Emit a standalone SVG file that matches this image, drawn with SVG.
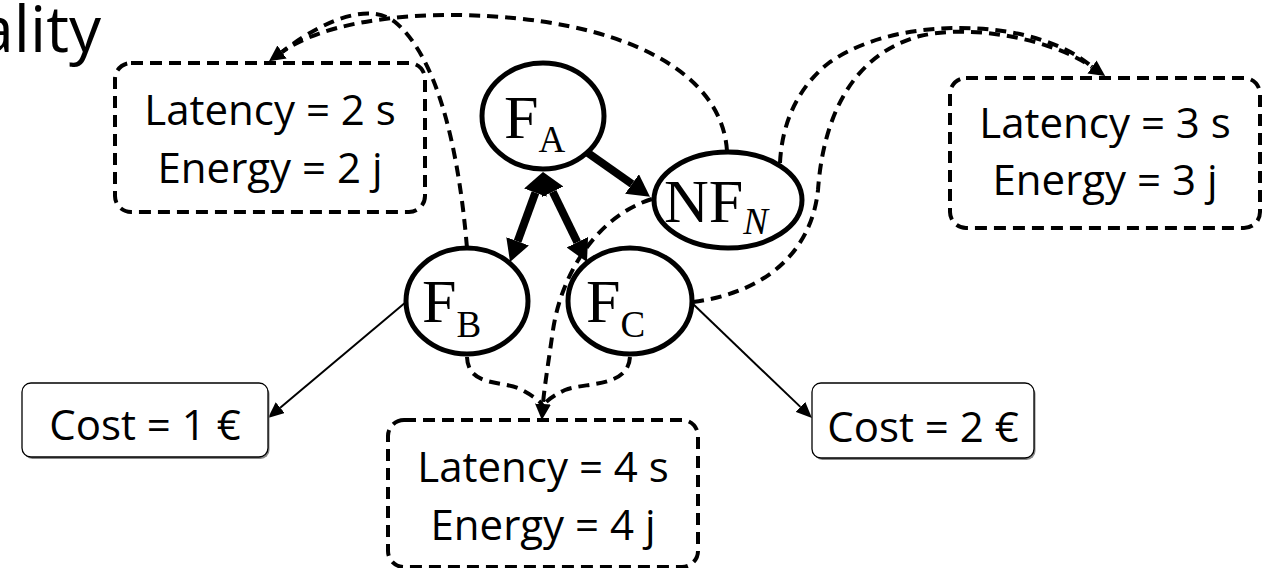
<svg xmlns="http://www.w3.org/2000/svg" width="1268" height="568" viewBox="0 0 1268 568">
<style>
.box{fill:#fff;stroke:#000;stroke-width:4;stroke-dasharray:12 7}
.cost{fill:#fff;stroke:#000;stroke-width:1.3}
.shadow{fill:#888}
.t{font-family:"Open Sans","Liberation Sans",sans-serif;font-size:42px;fill:#000;text-anchor:middle}
.node{fill:#fff;stroke:#000;stroke-width:5}
.lbl{font-family:"Liberation Serif","DejaVu Serif",serif;font-size:62px;fill:#000}
.sub{font-size:37px}
.thick{stroke:#000;stroke-width:8;fill:none}
.thin{stroke:#000;stroke-width:2;fill:none}
.dash{stroke:#000;stroke-width:4;fill:none;stroke-dasharray:11 7}
</style>
<defs>
<marker id="mThick" viewBox="0 0 22 24" refX="0" refY="12" markerWidth="22" markerHeight="24" markerUnits="userSpaceOnUse" orient="auto-start-reverse"><path d="M0,0 L22,12 L0,24 z" fill="#000"/></marker>
<marker id="mThin" viewBox="0 0 16 14" refX="0" refY="7" markerWidth="16" markerHeight="14" markerUnits="userSpaceOnUse" orient="auto"><path d="M0,0 L16,7 L0,14 z" fill="#000"/></marker>
<marker id="mDash" viewBox="0 0 16 16" refX="0" refY="8" markerWidth="16" markerHeight="16" markerUnits="userSpaceOnUse" orient="auto"><path d="M0,0 L16,8 L0,16 z" fill="#000"/></marker>
</defs>
<rect width="1268" height="568" fill="#fff"/>
<text x="101" y="52" font-family="Open Sans, Liberation Sans, sans-serif" font-size="64" text-anchor="end" fill="#000">ality</text>

<g id="connectors">
<line class="thick" x1="588" y1="153" x2="632" y2="184" marker-end="url(#mThick)"/>
<line class="thick" x1="535.4" y1="192.7" x2="517.6" y2="241.3" marker-start="url(#mThick)" marker-end="url(#mThick)"/>
<line class="thick" x1="552.7" y1="191.8" x2="577.3" y2="242.2" marker-start="url(#mThick)" marker-end="url(#mThick)"/>
<line class="thin" x1="406" y1="302" x2="280.2" y2="407.7" marker-end="url(#mThin)"/>
<line class="thin" x1="692" y1="303" x2="800.4" y2="406.9" marker-end="url(#mThin)"/>
<path class="dash" d="M467,248 C458,140 435,55 395,22 C372,4 330,15 282,52"/>
<path class="dash" d="M727,151 C722,70 620,18 460,15 C390,14 320,25 282,52" marker-end="url(#mDash)"/>
<path class="dash" d="M780,163 C782,120 800,85 830,62 C870,35 920,28 960,28 C1020,28 1068,45 1092,67"/>
<path class="dash" d="M693,302 C770,292 812,248 818,190 C823,120 850,55 920,36 C970,24 1050,38 1092,67" marker-end="url(#mDash)"/>
<path class="dash" d="M467,357 C468,388 505,380 522,390 C535,397 541,402 543,406"/>
<path class="dash" d="M630,357 C628,388 585,382 565,390 C552,396 545,402 543,406"/>
<path class="dash" d="M652,199 C600,215 562,270 553,330 C548,365 544,390 543,404" marker-end="url(#mDash)"/>
</g>

<g id="box-latency2">
<rect class="box" x="115" y="63" width="310" height="149" rx="16"/>
<text class="t" x="270" y="125">Latency = 2 s</text>
<text class="t" x="270" y="183">Energy = 2 j</text>
</g>
<g id="box-latency3">
<rect class="box" x="950" y="78" width="310" height="150" rx="16"/>
<text class="t" x="1105" y="138">Latency = 3 s</text>
<text class="t" x="1105" y="195">Energy = 3 j</text>
</g>
<g id="box-latency4">
<rect class="box" x="388" y="420" width="310" height="147" rx="16"/>
<text class="t" x="543" y="482">Latency = 4 s</text>
<text class="t" x="543" y="540">Energy = 4 j</text>
</g>
<g id="box-cost1">
<rect class="shadow" x="23.5" y="385" width="246" height="74" rx="9"/>
<rect class="cost" x="22" y="383" width="246" height="74" rx="9"/>
<text class="t" x="145" y="440">Cost = 1 €</text>
</g>
<g id="box-cost2">
<rect class="shadow" x="813.5" y="385" width="222" height="75" rx="9"/>
<rect class="cost" x="812" y="383" width="222" height="75" rx="9"/>
<text class="t" x="923" y="442">Cost = 2 €</text>
</g>

<g id="node-FA">
<ellipse class="node" cx="543" cy="116" rx="61" ry="53"/>
<text class="lbl" x="504" y="138">F<tspan class="sub" dy="14">A</tspan></text>
</g>
<g id="node-NFN">
<ellipse class="node" cx="728" cy="200" rx="74" ry="48"/>
<text class="lbl" x="664" y="222">NF<tspan class="sub" dy="12" font-style="italic">N</tspan></text>
</g>
<g id="node-FB">
<ellipse class="node" cx="467" cy="301" rx="61" ry="53"/>
<text class="lbl" x="422" y="322">F<tspan class="sub" dy="15">B</tspan></text>
</g>
<g id="node-FC">
<ellipse class="node" cx="630" cy="301" rx="62" ry="53"/>
<text class="lbl" x="586" y="322">F<tspan class="sub" dy="15">C</tspan></text>
</g>
</svg>
